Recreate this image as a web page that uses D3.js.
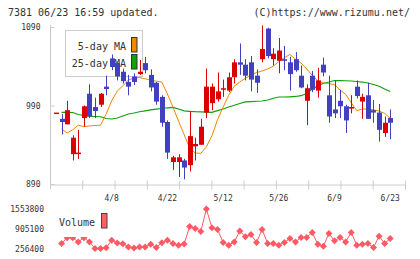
<!DOCTYPE html>
<html>
<head>
<meta charset="utf-8">
<script src="https://cdn.jsdelivr.net/npm/d3@7"></script>
<style>
  body { margin: 0; background: #fff; }
  svg { display: block; }
  text { font-family: "DejaVu Sans Mono", monospace; fill: #333; }
</style>
</head>
<body>
<svg id="chart" width="420" height="259"></svg>
<script>
// data
var dateLabels = ['4/8', '4/22', '5/12', '5/26', '6/9', '6/23'];
var dateIndex = [10, 20, 30, 40, 50, 60];
var priceTicks = [890, 990, 1090];
var volumeTicks = [256400, 905100, 1553800];

var opens  = [981, 973, 966, 928, 930, 974, 1005, 988, 991, 1014, 1050, 1044, 1033, 1020, 1027, 1030, 1044, 1029, 1019, 1001,
              969, 918, 918, 920, 914, 938, 940, 981, 993, 998, 1012, 1009, 1026, 1045, 1042, 1045, 1028, 1049, 1088, 1049,
              1047, 1049, 1045, 1049, 1028, 996, 1028, 1009, 1042, 1003, 985, 996, 989, 986, 1014, 995, 1003, 984, 981, 955, 974];
var highs  = [981, 979, 996, 952, 959, 990, 1017, 1000, 1006, 1028, 1055, 1046, 1037, 1029, 1031, 1048, 1052, 1036, 1020, 1003,
              971, 926, 928, 922, 983, 949, 973, 1037, 1018, 1032, 1023, 1032, 1049, 1069, 1049, 1053, 1036, 1092, 1089, 1063,
              1076, 1066, 1052, 1058, 1041, 1017, 1034, 1038, 1051, 1028, 1022, 1010, 991, 1003, 1022, 1005, 1019, 997, 992, 976, 985];
var lows   = [981, 953, 966, 920, 922, 963, 974, 974, 988, 1003, 1035, 1022, 1018, 1003, 1016, 1029, 1031, 1008, 991, 963,
              922, 908, 899, 896, 906, 920, 940, 974, 984, 995, 1001, 1007, 1018, 1029, 1022, 1008, 1006, 1045, 1050, 1041,
              1031, 1035, 1009, 1033, 1012, 965, 1007, 1000, 1027, 968, 974, 974, 955, 980, 999, 973, 973, 968, 944, 950, 947];
var closes = [981, 969, 984, 949, 930, 989, 976, 983, 1005, 1011, 1039, 1027, 1021, 1014, 1020, 1033, 1035, 1013, 995, 968,
              930, 924, 924, 911, 951, 941, 963, 1014, 1014, 1008, 1012, 1026, 1045, 1042, 1028, 1023, 1019, 1062, 1053, 1056,
              1060, 1047, 1030, 1035, 1013, 1012, 1010, 1022, 1032, 976, 980, 989, 971, 988, 1002, 1001, 973, 981, 959, 968, 968];

var ma5  = [null, 960, 955, 959, 965, 963, 964, 964.5, 965, 979, 996, 1008.5, 1015, 1022.5, 1025, 1025.7, 1024, 1022.5, 1021, 1020,
            1004.6, 988, 970, 953, 935.5, 929.5, 929, 937.5, 951.5, 972, 988, 1003, 1014.5, 1020, 1024.6, 1029, 1032, 1034, 1036.5, 1040,
            1046, 1051, 1055, 1049, 1044, 1036.5, 1028.5, 1021.6, 1018.7, 1018, 1016.4, 1009.7, 1004.3, 993.6, 983.4, 985.5, 985.5, 984.6, 983, 980, 973.7];
var ma25 = [null, 981.3, 981.3, 981.1, 978.5, 977.3, 976.4, 976, 975.7, 973.4, 972.8, 974.1, 976.6, 979.2, 980.4, 982, 983.2, 984.5, 985.5, 986.2,
            987.1, 987.5, 985.5, 983.2, 982.6, 982.2, 982, 981.6, 981.3, 983.4, 985.5, 988.1, 990.3, 992.5, 994.7, 995, 995.4, 995.7, 997, 999.2,
            1000.8, 1000.8, 1001.1, 1001.5, 1002.5, 1005.3, 1011, 1014.8, 1018.3, 1019.9, 1021.8, 1021.7, 1021.5, 1021.2, 1020.6, 1019.9, 1018.7, 1016.8, 1014.5, 1011, 1007.8];
var volumes = [null, 421000, 613000, 613000, 474000, 613000, 474000, 256400, 256400, 280000, 530000, 441000, 415000, 309000, 270000,
               309000, 309000, 392000, 289000, 448000, 530000, 421000, 365000, 405000, 983000, 917000, 818000, 1553800, 936000, 884000,
               454000, 365000, 474000, 828000, 639000, 719000, 454000, 884000, 421000, 421000, 365000, 454000, 587000, 474000, 620000,
               620000, 785000, 398000, 332000, 752000, 507000, 620000, 474000, 785000, 365000, 398000, 421000, 289000, 662000, 421000, 587000];

var upColor = '#dd0000', downColor = '#4040c0',
    ma5Color = '#f08800', ma25Color = '#10a010',
    volColor = '#ff5a64', gridColor = '#cccccc';

var svg = d3.select('#chart');

var x = d3.scaleLinear().domain([0, opens.length - 1]).range([56, 390.2]);
var y = d3.scaleLinear().domain([890, 1090]).range([184, 27]);
var yv = d3.scaleLinear().domain([256400, 1553800]).range([248.5, 209]);
var grid = d3.scaleLinear().domain([0, 11]).range([50, 405]);

// header
svg.append('text').attr('x', 8).attr('y', 16).style('font-size', '10px')
    .text('7381 06/23 16:59 updated.');
svg.append('text').attr('x', 410).attr('y', 16).attr('text-anchor', 'end').style('font-size', '10px')
    .text('(C)https://www.rizumu.net/');

// bottom axis with grid ticks crossing the line
svg.append('g')
    .attr('transform', 'translate(0,184.5)')
    .call(d3.axisBottom(grid).tickValues(d3.range(12)).tickFormat('').tickSizeOuter(0))
    .call(function(g) {
        g.select('.domain').attr('stroke', gridColor);
        g.selectAll('.tick line').attr('stroke', gridColor).attr('y1', -4).attr('y2', 5);
    });

// left price axis
svg.append('g')
    .attr('transform', 'translate(50.5,0)')
    .call(d3.axisLeft(y).tickValues(priceTicks).tickSize(5).tickPadding(5).tickFormat(d3.format('d')))
    .call(function(g) {
        g.select('.domain').remove();
        g.selectAll('.tick line').attr('stroke', gridColor).attr('x2', 4);
        g.selectAll('.tick text').style('font-size', '8px').attr('fill', '#333');
    });
svg.append('line')
    .attr('x1', 50.5).attr('x2', 50.5)
    .attr('y1', y(1092.5)).attr('y2', y(890))
    .attr('stroke', gridColor);

// date labels
svg.append('g').selectAll('text')
    .data(dateIndex)
    .enter().append('text')
    .attr('x', function(d) { return x(d); })
    .attr('y', 201)
    .attr('text-anchor', 'middle')
    .style('font-size', '8px')
    .text(function(d, i) { return dateLabels[i]; });

// price legend (sits under the candles)
var leg = svg.append('g');
leg.append('rect').attr('x', 65.5).attr('y', 30.5).attr('width', 77).attr('height', 46)
    .attr('fill', '#fff').attr('stroke', gridColor);
leg.append('text').attr('x', 126).attr('y', 50).attr('text-anchor', 'end').style('font-size', '10px').text('5-day MA');
leg.append('text').attr('x', 126).attr('y', 67).attr('text-anchor', 'end').style('font-size', '10px').text('25-day MA');
leg.append('rect').attr('x', 131.5).attr('y', 37.5).attr('width', 5.5).attr('height', 14.5)
    .attr('fill', ma5Color).attr('stroke', '#333');
leg.append('rect').attr('x', 131.5).attr('y', 54.5).attr('width', 5.5).attr('height', 14.5)
    .attr('fill', ma25Color).attr('stroke', '#333');

// moving averages
function maLine(vals) {
    return d3.line()
        .defined(function(d) { return d != null; })
        .x(function(d, i) { return x(i); })
        .y(function(d) { return y(d); })(vals);
}
svg.append('path').attr('d', maLine(ma25)).attr('fill', 'none')
    .attr('stroke', ma25Color).attr('stroke-width', 1.2);
svg.append('path').attr('d', maLine(ma5)).attr('fill', 'none')
    .attr('stroke', ma5Color).attr('stroke-width', 1);

// candles
var candles = svg.append('g').selectAll('g')
    .data(d3.range(opens.length))
    .enter().append('g');
candles.append('line')
    .attr('x1', function(i) { return Math.round(x(i)) + 0.5; })
    .attr('x2', function(i) { return Math.round(x(i)) + 0.5; })
    .attr('y1', function(i) { return y(highs[i]); })
    .attr('y2', function(i) { return y(lows[i]); })
    .attr('stroke', function(i) { return closes[i] >= opens[i] ? upColor : downColor; });
candles.append('rect')
    .attr('x', function(i) { return Math.round(x(i)) - 2; })
    .attr('width', 5)
    .attr('y', function(i) { return y(Math.max(opens[i], closes[i])); })
    .attr('height', function(i) { return Math.max(1.5, Math.abs(y(opens[i]) - y(closes[i]))); })
    .attr('fill', function(i) { return closes[i] >= opens[i] ? upColor : downColor; });

// volume panel
svg.append('g')
    .attr('transform', 'translate(47,0)')
    .call(d3.axisLeft(yv).tickValues(volumeTicks).tickSize(0).tickPadding(3).tickFormat(d3.format('d')))
    .call(function(g) {
        g.select('.domain').remove();
        g.selectAll('.tick text').style('font-size', '8px').attr('fill', '#333');
    });

var volLine = d3.line()
    .defined(function(d) { return d != null; })
    .x(function(d, i) { return x(i); })
    .y(function(d) { return yv(d); });
svg.append('path').attr('d', volLine(volumes)).attr('fill', 'none')
    .attr('stroke', volColor).attr('stroke-width', 1);
svg.append('g').selectAll('path')
    .data(d3.range(volumes.length).filter(function(i) { return volumes[i] != null; }))
    .enter().append('path')
    .attr('d', 'M0,-3.5L3.5,0L0,3.5L-3.5,0Z')
    .attr('transform', function(i) { return 'translate(' + x(i) + ',' + yv(volumes[i]) + ')'; })
    .attr('fill', volColor);

// volume legend covers the line behind it
var vleg = svg.append('g');
vleg.append('rect').attr('x', 56).attr('y', 205).attr('width', 56).attr('height', 32).attr('fill', '#fff');
vleg.append('text').attr('x', 59).attr('y', 225.5).style('font-size', '10px').text('Volume');
vleg.append('rect').attr('x', 101.5).attr('y', 213.5).attr('width', 5.5).attr('height', 14.5)
    .attr('fill', '#ff6060').attr('stroke', '#444');
</script>
</body>
</html>
